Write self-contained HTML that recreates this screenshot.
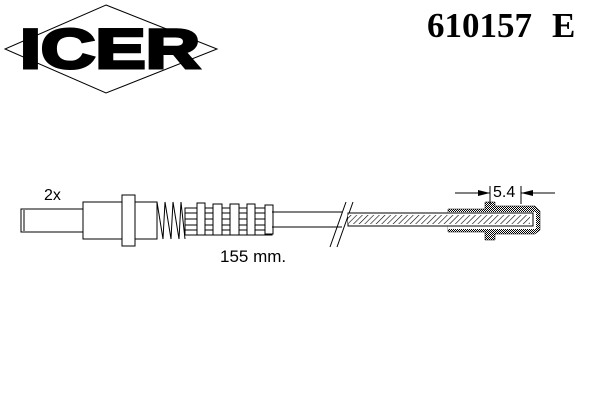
<!DOCTYPE html>
<html><head><style>html,body{margin:0;padding:0;background:#fff}</style></head><body>
<svg width="600" height="400" viewBox="0 0 600 400" xmlns="http://www.w3.org/2000/svg">
<defs>
<pattern id="h" width="4" height="4" patternUnits="userSpaceOnUse" patternTransform="rotate(45)">
<rect width="4" height="4" fill="#fff"/><line x1="0" y1="0" x2="0" y2="4" stroke="#000" stroke-width="1.2"/></pattern>
<pattern id="d" width="2" height="2" patternUnits="userSpaceOnUse"><rect width="2" height="2" fill="#fff"/><rect width="1" height="1" fill="#000"/><rect x="1" y="1" width="1" height="1" fill="#000"/></pattern>
</defs>
<polygon points="106,5 217,49 106,93 5,49" fill="none" stroke="#000" stroke-width="1"/>
<text x="20" y="68" font-family="Liberation Sans" font-weight="bold" font-size="56" textLength="180" lengthAdjust="spacingAndGlyphs" stroke="#000" stroke-width="3">ICER</text>
<text x="427" y="37" font-family="Liberation Serif" font-weight="bold" font-size="35">610157</text>
<text x="552" y="37" font-family="Liberation Serif" font-weight="bold" font-size="35">E</text>
<g fill="#fff" stroke="#000" stroke-width="1">
<rect x="21" y="209" width="62" height="23"/>
<line x1="24" y1="210" x2="24" y2="231"/>
<rect x="83" y="202" width="74" height="37"/>
<rect x="122" y="195" width="13" height="51"/>
<polyline points="157,202 163,239 165,202 171,239 173,202 179,239 181,202 185,239" fill="none"/>
<rect x="185" y="208" width="87" height="27"/>
<line x1="185" y1="213" x2="272" y2="213"/><line x1="185" y1="219" x2="272" y2="219"/><line x1="185" y1="225" x2="272" y2="225"/><line x1="185" y1="230" x2="272" y2="230"/>
<rect x="197" y="203" width="8" height="32"/><rect x="213" y="204" width="9" height="31"/><rect x="230" y="204" width="9" height="31"/><rect x="247" y="204" width="8" height="31"/><rect x="265" y="205" width="8" height="29"/>
<line x1="272" y1="212" x2="342" y2="212"/><line x1="272" y1="227" x2="342" y2="227"/>
<line x1="330" y1="247" x2="346" y2="202"/><line x1="337" y1="247" x2="353" y2="202"/>
</g>
<polygon points="448,209 485,209 485,202 495,202 495,206 535,206 540,211 540,230 535,234 495,234 495,240 485,240 485,232 448,232" fill="url(#d)" stroke="#000" stroke-width="0.5"/>
<rect x="448" y="212" width="88" height="17" fill="#fff"/>
<rect x="348" y="213" width="185" height="13" fill="#fff" stroke="#000" stroke-width="1"/>
<rect x="348" y="215" width="182" height="9" fill="url(#h)"/>
<g stroke="#000" stroke-width="1">
<line x1="455" y1="193" x2="490" y2="193"/><line x1="521" y1="193" x2="555" y2="193"/>
<line x1="490" y1="186" x2="490" y2="204"/><line x1="521" y1="186" x2="521" y2="204"/>
</g>
<polygon points="490,193 478,190 478,196" fill="#000"/><polygon points="521,193 533,190 533,196" fill="#000"/>
<text x="493" y="197" font-family="Liberation Sans" font-size="16">5.4</text>
<text x="44" y="200" font-family="Liberation Sans" font-size="16">2x</text>
<text x="220" y="262" font-family="Liberation Sans" font-size="17">155 mm.</text>
</svg>
</body></html>
